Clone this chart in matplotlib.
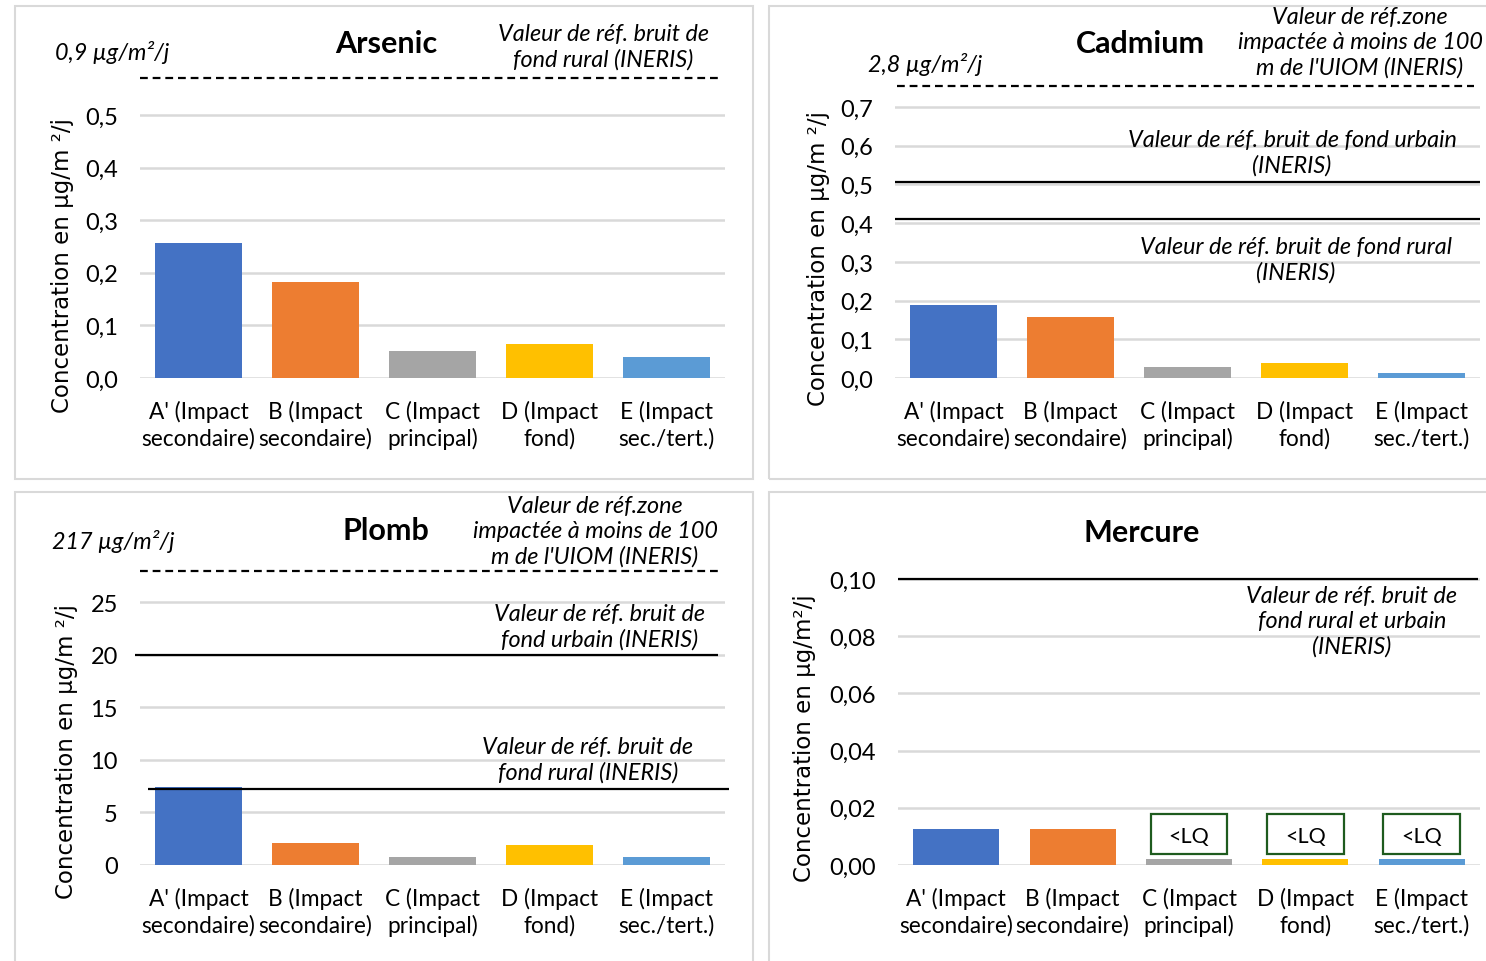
import matplotlib.pyplot as plt
from matplotlib.patches import Rectangle

plt.rcParams['font.family'] = ['Lato', 'DejaVu Sans']

# data
categories = ["A' (Impact\nsecondaire)", "B (Impact\nsecondaire)", "C (Impact\nprincipal)",
              "D (Impact\nfond)", "E (Impact\nsec./tert.)"]
bar_colors = ['#4472C4', '#ED7D31', '#A5A5A5', '#FFC000', '#5B9BD5']

arsenic = [0.256, 0.183, 0.051, 0.065, 0.040]
cadmium = [0.189, 0.158, 0.028, 0.039, 0.013]
plomb = [7.4, 2.1, 0.76, 1.9, 0.76]
mercure = [0.0126, 0.0126, 0.002, 0.002, 0.002]

arsenic_ticks = [0.0, 0.1, 0.2, 0.3, 0.4, 0.5]
cadmium_ticks = [0.0, 0.1, 0.2, 0.3, 0.4, 0.5, 0.6, 0.7]
plomb_ticks = [0, 5, 10, 15, 20, 25]
mercure_ticks = [0.00, 0.02, 0.04, 0.06, 0.08, 0.10]

# reference values (off-scale ones drawn just above the scale)
arsenic_offscale = 0.57
cadmium_offscale = 0.755
cadmium_urbain, cadmium_rural = 0.505, 0.41
plomb_offscale = 27.9
plomb_urbain, plomb_rural = 20, 7.2
mercure_ref = 0.10
mercure_lq = [2, 3, 4]

W, H = 1486, 962
fig = plt.figure(figsize=(W / 100, H / 100), dpi=100)


def fx(x):
    return x / W


def fy(y):
    return 1 - y / H


def panel(x0, y0, x1, y1):
    fig.patches.append(Rectangle((fx(x0), fy(y1)), fx(x1) - fx(x0), fy(y0) - fy(y1),
                                 transform=fig.transFigure, fill=False,
                                 edgecolor='#D9D9D9', linewidth=1.5))


def make_axes(left, right, base, tick_top, ticks, top, fmt):
    # base/tick_top: pixel rows of the 0 tick and of the highest tick
    ax = fig.add_axes([fx(left), fy(base), fx(right) - fx(left), fy(top) - fy(base)])
    ymax = ticks[-1] * (base - top) / (base - tick_top)
    ax.set_ylim(0, ymax)
    ax.set_xlim(-0.5, 4.5)
    ax.set_yticks(ticks)
    ax.set_yticklabels([fmt(t) for t in ticks], fontsize=17)
    ax.set_xticks(range(len(categories)))
    ax.set_xticklabels(categories, fontsize=16.3, linespacing=1.25)
    ax.tick_params(length=0, pad=16)
    ax.tick_params(axis='y', pad=16)
    for s in ax.spines.values():
        s.set_visible(False)
    ax.grid(axis='y', color='#D9D9D9', linewidth=1.8)
    ax.set_axisbelow(True)
    ax.patch.set_alpha(0)
    return ax


def fr(d):
    return lambda t: f"{t:.{d}f}".replace('.', ',')


def bars(ax, values):
    ax.bar(range(len(values)), values, width=0.74, color=bar_colors, zorder=3)


dash = dict(color='black', linewidth=1.6, linestyle=(0, (3.5, 2.2)), clip_on=False, zorder=4)
solid = dict(color='black', linewidth=1.6, clip_on=False, zorder=4)
note = dict(fontsize=16.8, style='italic', ha='center', va='center', linespacing=1.25)
small = dict(fontsize=16.8, style='italic', ha='left', va='center')
title = dict(fontsize=22, fontweight='bold', ha='center', va='center')
ylab = dict(fontsize=16.5, rotation=90, ha='center', va='center', family='DejaVu Sans')

panel(15, 7, 753, 480)
panel(769, 7, 1500, 480)
panel(15, 493, 753, 970)
panel(769, 493, 1500, 970)

# Arsenic
ax1 = make_axes(140, 725, 379, 116, arsenic_ticks, 70, fr(1))
bars(ax1, arsenic)
ax1.hlines(arsenic_offscale, -0.5, 4.45, **dash)
fig.text(fx(386), fy(44), 'Arsenic', **title)
fig.text(fx(55), fy(53), '0,9 µg/m²/j', **small)
fig.text(fx(603), fy(47), 'Valeur de réf. bruit de\nfond rural (INERIS)', **note)
fig.text(fx(63), fy(266), 'Concentration en µg/m ²/j', **ylab)

# Cadmium
ax2 = make_axes(895, 1480, 379, 108, cadmium_ticks, 80, fr(1))
bars(ax2, cadmium)
ax2.hlines(cadmium_offscale, -0.48, 4.45, **dash)
ax2.hlines([cadmium_urbain, cadmium_rural], -0.5, 4.5, **solid)
fig.text(fx(1140), fy(44), 'Cadmium', **title)
fig.text(fx(868), fy(64), '2,8 µg/m²/j', **small)
fig.text(fx(1360), fy(43), "Valeur de réf.zone\nimpactée à moins de 100\nm de l'UIOM (INERIS)", **note)
fig.text(fx(1292), fy(153), 'Valeur de réf. bruit de fond urbain\n(INERIS)', **note)
fig.text(fx(1296), fy(260), 'Valeur de réf. bruit de fond rural\n(INERIS)', **note)
fig.text(fx(818), fy(259), 'Concentration en µg/m ²/j', **ylab)

# Plomb
ax3 = make_axes(140, 725, 866, 603, plomb_ticks, 560, fr(0))
bars(ax3, plomb)
ax3.hlines(plomb_offscale, -0.5, 4.45, **dash)
ax3.hlines(plomb_urbain, -0.54, 4.44, **solid)
ax3.hlines(plomb_rural, -0.43, 4.53, **solid)
fig.text(fx(386), fy(531), 'Plomb', **title)
fig.text(fx(52), fy(542), '217 µg/m²/j', **small)
fig.text(fx(595), fy(532), "Valeur de réf.zone\nimpactée à moins de 100\nm de l'UIOM (INERIS)", **note)
fig.text(fx(600), fy(627), 'Valeur de réf. bruit de\nfond urbain (INERIS)', **note)
fig.text(fx(588), fy(760), 'Valeur de réf. bruit de\nfond rural (INERIS)', **note)
fig.text(fx(67), fy(752), 'Concentration en µg/m ²/j', **ylab)

# Mercure
ax4 = make_axes(898, 1480, 866, 580, mercure_ticks, 560, fr(2))
bars(ax4, mercure)
ax4.hlines(mercure_ref, -0.5, 4.48, **solid)
for i in mercure_lq:
    ax4.add_patch(Rectangle((i - 0.33, 0.0038), 0.66, 0.014, facecolor='white',
                            edgecolor='#1E5B1E', linewidth=1.6, zorder=5))
    ax4.text(i, 0.0102, '<LQ', fontsize=15.5, ha='center', va='center', zorder=6)
fig.text(fx(1142), fy(533), 'Mercure', **title)
fig.text(fx(1352), fy(622), 'Valeur de réf. bruit de\nfond rural et urbain\n(INERIS)', **note)
fig.text(fx(805), fy(738), 'Concentration en µg/m²/j', **ylab)

fig.savefig('out.png', dpi=100)
